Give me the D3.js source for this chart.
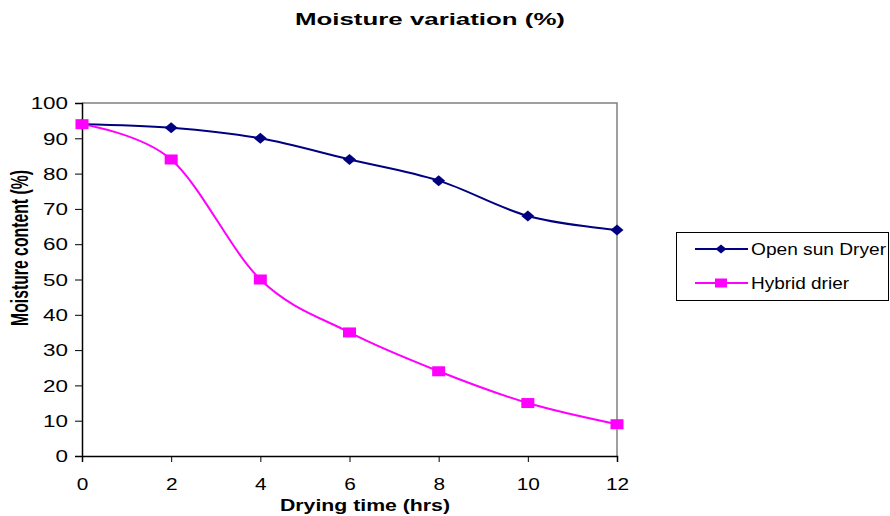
<!DOCTYPE html>
<html>
<head>
<meta charset="utf-8">
<script src="https://cdn.jsdelivr.net/npm/d3@7"></script>
<style>
  html, body { margin: 0; padding: 0; background: #fff; }
  svg { display: block; font-family: "Liberation Sans", Arial, sans-serif; }
</style>
</head>
<body>
<svg id="chart" width="890" height="516"></svg>
<script>
// Drying hours and moisture readings for the two driers
const hours = [0, 2, 4, 6, 8, 10, 12];
const openSun = [94, 93, 90, 84, 78, 68, 64];
const hybrid = [94, 84, 50, 35, 24, 15, 9];
const xTicks = [0, 2, 4, 6, 8, 10, 12];
const yTicks = [0, 10, 20, 30, 40, 50, 60, 70, 80, 90, 100];
const seriesNames = ["Open sun Dryer", "Hybrid drier"];

const svg = d3.select("#chart");
const plot = { left: 82, right: 617, top: 103, bottom: 456 };
const SX = 1.45; // horizontal widening applied to the labels

const x = d3.scaleLinear().domain([0, 12]).range([plot.left, plot.right]);
const y = d3.scaleLinear().domain([0, 100]).range([plot.bottom, plot.top]);

// widen a text element horizontally by factor k
function widen(sel, k) {
  sel.each(function () {
    const w = this.getComputedTextLength();
    d3.select(this).attr("textLength", w * k).attr("lengthAdjust", "spacingAndGlyphs");
  });
}

// Title
svg.append("text")
  .attr("x", 430).attr("y", 25)
  .attr("text-anchor", "middle")
  .attr("font-weight", "bold").attr("font-size", 17)
  .attr("textLength", 270).attr("lengthAdjust", "spacingAndGlyphs")
  .text("Moisture variation (%)");

// Plot frame: grey top/right edges
svg.append("path")
  .attr("d", `M${plot.left},${plot.top}H${plot.right}V${plot.bottom}`)
  .attr("fill", "none").attr("stroke", "#808080").attr("stroke-width", 1.5);

// Axes
const yAxis = d3.axisLeft(y).tickValues(yTicks).tickSize(7).tickPadding(7);
const gy = svg.append("g").attr("transform", `translate(${plot.left},0)`).call(yAxis);
gy.select(".domain").attr("stroke", "#000").attr("stroke-width", 1.5);
gy.selectAll(".tick line").attr("stroke", "#000").attr("stroke-width", 1);
gy.selectAll(".tick text").attr("font-size", 16).attr("fill", "#000")
  .attr("dy", "0.36em")
  .attr("font-family", "'Liberation Sans', Arial, sans-serif")
  .call(widen, 1.4);

const xAxis = d3.axisBottom(x).tickValues(xTicks).tickSize(6).tickPadding(17);
const gx = svg.append("g").attr("transform", `translate(0,${plot.bottom})`).call(xAxis);
gx.select(".domain").attr("stroke", "#000").attr("stroke-width", 1.5);
gx.selectAll(".tick line").attr("stroke", "#000").attr("stroke-width", 1);
gx.selectAll(".tick text").attr("font-size", 16).attr("fill", "#000")
  .attr("font-family", "'Liberation Sans', Arial, sans-serif")
  .call(widen, 1.3);

// Axis titles
svg.append("text")
  .attr("x", 365).attr("y", 511)
  .attr("text-anchor", "middle")
  .attr("font-weight", "bold").attr("font-size", 17)
  .attr("textLength", 170).attr("lengthAdjust", "spacingAndGlyphs")
  .text("Drying time (hrs)");

svg.append("text")
  .attr("transform", `translate(28,248) scale(${SX},1) rotate(-90)`)
  .attr("text-anchor", "middle")
  .attr("font-weight", "bold").attr("font-size", 16)
  .attr("textLength", 156).attr("lengthAdjust", "spacingAndGlyphs")
  .text("Moisture content (%)");

// Series lines (smoothed)
const line = d3.line()
  .x(d => x(d[0])).y(d => y(d[1]))
  .curve(d3.curveCatmullRom.alpha(0));

const series = [
  { name: seriesNames[0], values: openSun, color: "#000080", marker: "diamond", legendLen: 135 },
  { name: seriesNames[1], values: hybrid, color: "#FF00FF", marker: "square", legendLen: 98 }
];

const diamond = (w, h) => `M0,${-h}L${w},0L0,${h}L${-w},0Z`;

series.forEach(s => {
  const pts = hours.map((h, i) => [h, s.values[i]]);
  svg.append("path")
    .attr("d", line(pts))
    .attr("fill", "none").attr("stroke", s.color).attr("stroke-width", 2);
  const g = svg.append("g");
  pts.forEach(p => {
    if (s.marker === "diamond") {
      g.append("path").attr("d", diamond(6.5, 5.5))
        .attr("transform", `translate(${x(p[0])},${y(p[1])})`)
        .attr("fill", s.color);
    } else {
      g.append("rect")
        .attr("x", x(p[0]) - 6.5).attr("y", y(p[1]) - 5)
        .attr("width", 13).attr("height", 10)
        .attr("fill", s.color);
    }
  });
});

// Legend
const lg = svg.append("g");
lg.append("rect")
  .attr("x", 676.5).attr("y", 232.5).attr("width", 212).attr("height", 68)
  .attr("fill", "#fff").attr("stroke", "#000").attr("stroke-width", 1);

series.forEach((s, i) => {
  const cy = 249 + i * 34;
  lg.append("line")
    .attr("x1", 695).attr("x2", 748).attr("y1", cy).attr("y2", cy)
    .attr("stroke", s.color).attr("stroke-width", 2);
  if (s.marker === "diamond") {
    lg.append("path").attr("d", diamond(5.5, 4.5))
      .attr("transform", `translate(721,${cy})`).attr("fill", s.color);
  } else {
    lg.append("rect").attr("x", 715).attr("y", cy - 4.5)
      .attr("width", 12).attr("height", 9).attr("fill", s.color);
  }
  lg.append("text")
    .attr("x", 751).attr("y", cy + 6)
    .attr("font-size", 16).attr("fill", "#000")
    .attr("textLength", s.legendLen).attr("lengthAdjust", "spacingAndGlyphs")
    .text(s.name);
});
</script>
</body>
</html>
